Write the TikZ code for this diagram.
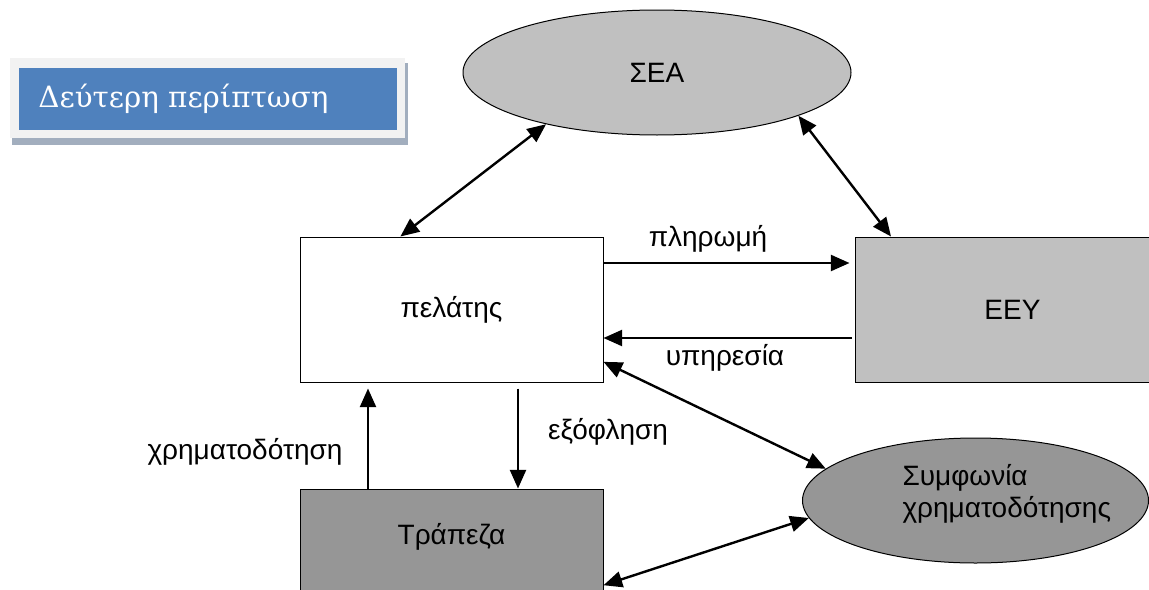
\documentclass[tikz,border=0pt]{standalone}
\usepackage{fontspec}
\setmainfont{Liberation Sans}
\newfontfamily\titlefont{DejaVu Serif}
\usetikzlibrary{arrows.meta,calc,shapes.geometric}

\definecolor{lgray}{RGB}{192,192,192}
\definecolor{dgray}{RGB}{150,150,150}
\definecolor{tblue}{RGB}{79,129,189}
\definecolor{tpanel}{RGB}{242,242,242}
\definecolor{tshadow}{RGB}{162,174,190}

\tikzset{every picture/.style={line width=0.75pt}}
\tikzset{
  box/.style={draw, rectangle, inner sep=0pt},
  oval/.style={draw, ellipse, inner sep=0pt},
  lbl/.style={inner sep=0pt, font=\fontsize{21}{24}\selectfont},
  tip/.style={line width=1.8pt, -{Triangle[length=14pt,width=12pt]}},
  twotip/.style={line width=1.8pt, {Triangle[length=14pt,width=12pt]}-{Triangle[length=14pt,width=12pt]}}
}

\begin{document}
\begin{tikzpicture}[x=0.75pt,y=0.75pt,yscale=-1,xscale=1]
\clip (0,0) rectangle (1149,589);

%Title panel
\fill [tshadow] (12,63) rectangle (408,145);
\fill [tpanel] (10,58) rectangle (405,138);
\fill [tblue] (19,68) rectangle (397,130);
\node [anchor=west, inner sep=0pt, text=white, font=\titlefont\fontsize{22}{26}\selectfont] (title) at (38,99) {Δεύτερη περίπτωση};

%Nodes
\node [oval, fill=lgray, minimum width=291pt, minimum height=93.75pt, lbl] (sea) at (657,72.5) {ΣΕΑ};
\node [box, fill=white, minimum width=227.25pt, minimum height=108.75pt, lbl] (pel) at (451.5,309.5) {πελάτης};
\node [box, fill=lgray, minimum width=236.25pt, minimum height=108.75pt, lbl] (eey) at (1012.5,309.5) {ΕΕΥ};
\node [box, fill=dgray, minimum width=227.25pt, minimum height=83.25pt] (tra) at (451.5,544.5) {};
\node [lbl] (tratxt) at (451.5,537) {Τράπεζα};
\node [oval, fill=dgray, minimum width=259.5pt, minimum height=93.75pt] (sym) at (975.5,500.5) {};
\node [lbl, align=left, anchor=west] (symtxt) at (902,494) {Συμφωνία\\χρηματοδότησης};

%Connectors
\draw [twotip] (pel.125) -- (sea.205);
\draw [twotip] (eey.149) -- (sea.343);
\draw [tip] ($(pel.east)+(0,-46.5)$) -- ($(eey.west)+(-5,-46.5)$);
\draw [tip] ($(eey.west)+(-3,28.5)$) -- ($(pel.east)+(0,28.5)$);
\draw [tip] ($(tra.north)+(-83.5,0)$) -- ($(pel.south)+(-83.5,6)$);
\draw [tip] ($(pel.south)+(66.5,6)$) -- ($(tra.north)+(66.5,0)$);
\draw [twotip] (pel.341) -- (sym.168);
\draw [twotip] (tra.345) -- (sym.186);

%Labels
\node [lbl] (pay) at (708,239) {πληρωμή};
\node [lbl] (serv) at (725,358) {υπηρεσία};
\node [lbl] (settle) at (608,432) {εξόφληση};
\node [lbl] (fund) at (245,452) {χρηματοδότηση};

\end{tikzpicture}
\end{document}
